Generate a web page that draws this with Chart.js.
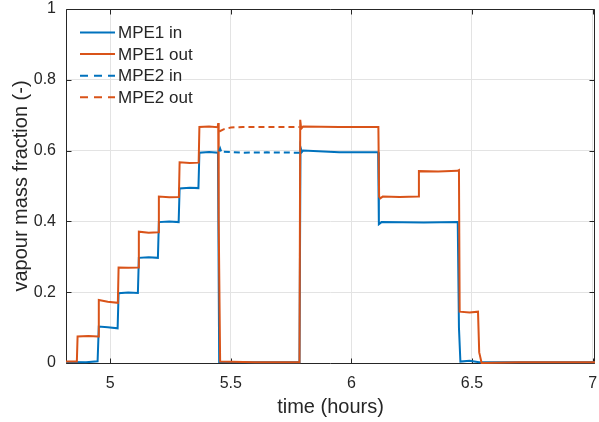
<!DOCTYPE html>
<html>
<head>
<meta charset="utf-8">
<script src="https://cdn.jsdelivr.net/npm/chart.js@4.4.1/dist/chart.umd.min.js"></script>
<style>
  html, body { margin: 0; padding: 0; background: #ffffff; }
  #wrap { width: 599px; height: 422px; }
</style>
</head>
<body>
<div id="wrap"><canvas id="c" width="599" height="422"></canvas></div>
<script>
// ---- data ----
const seriesLabels = ['MPE1 in', 'MPE1 out', 'MPE2 in', 'MPE2 out'];

const timeMPE1in = [4.817, 4.900, 4.948, 4.953, 4.990, 5.031, 5.035, 5.075, 5.115, 5.119, 5.160, 5.198, 5.202, 5.245, 5.284, 5.288, 5.330, 5.366, 5.370, 5.410, 5.447, 5.452, 5.600, 5.785, 5.789, 5.795, 5.800, 5.950, 6.111, 6.114, 6.125, 6.300, 6.441, 6.446, 6.452, 6.490, 6.530, 7.010];
const valMPE1in  = [0.003, 0.002, 0.005, 0.103, 0.101, 0.098, 0.197, 0.199, 0.198, 0.297, 0.299, 0.297, 0.398, 0.400, 0.398, 0.493, 0.495, 0.494, 0.594, 0.596, 0.594, 0.003, 0.002, 0.002, 0.610, 0.596, 0.600, 0.595, 0.595, 0.392, 0.398, 0.397, 0.398, 0.100, 0.004, 0.006, 0.002, 0.002];

const timeMPE1out = [4.817, 4.862, 4.865, 4.910, 4.950, 4.953, 4.990, 5.032, 5.035, 5.075, 5.116, 5.119, 5.160, 5.199, 5.202, 5.245, 5.285, 5.288, 5.330, 5.367, 5.370, 5.410, 5.446, 5.448, 5.450, 5.456, 5.600, 5.785, 5.788, 5.792, 5.800, 5.950, 6.112, 6.115, 6.120, 6.130, 6.200, 6.277, 6.280, 6.360, 6.440, 6.446, 6.449, 6.490, 6.525, 6.530, 6.540, 6.700, 7.010];
const valMPE1out  = [0.004, 0.004, 0.075, 0.076, 0.075, 0.178, 0.173, 0.170, 0.270, 0.269, 0.270, 0.371, 0.368, 0.369, 0.470, 0.468, 0.469, 0.567, 0.565, 0.566, 0.667, 0.668, 0.666, 0.678, 0.400, 0.004, 0.002, 0.002, 0.687, 0.662, 0.668, 0.667, 0.667, 0.470, 0.465, 0.470, 0.469, 0.470, 0.542, 0.541, 0.543, 0.545, 0.145, 0.143, 0.145, 0.030, 0.000, 0.002, 0.002];

const timeMPE2in = [5.452, 5.456, 5.462, 5.470, 5.550, 5.650, 5.785];
const valMPE2in  = [0.598, 0.606, 0.594, 0.597, 0.594, 0.595, 0.594];

const timeMPE2out = [5.452, 5.470, 5.500, 5.550, 5.650, 5.785];
const valMPE2out  = [0.654, 0.660, 0.665, 0.667, 0.667, 0.667];

const xTickValues = [5, 5.5, 6, 6.5, 7];
const yTickValues = [0, 0.2, 0.4, 0.6, 0.8, 1];
const xRange = [4.817, 7.01];
const yRange = [0, 1];

// ---- styling ----
const BLUE = '#0072BD';
const ORANGE = '#D95319';
const TEXT = '#262626';
const FONT = "'Liberation Sans', Arial, Helvetica, sans-serif";

function pts(xs, ys) { return xs.map((x, i) => ({ x: x, y: ys[i] })); }

const datasets = [
  { label: seriesLabels[0], data: pts(timeMPE1in, valMPE1in), borderColor: BLUE, borderWidth: 2, order: 3 },
  { label: seriesLabels[1], data: pts(timeMPE1out, valMPE1out), borderColor: ORANGE, borderWidth: 2, order: 2 },
  { label: seriesLabels[2], data: pts(timeMPE2in, valMPE2in), borderColor: BLUE, borderWidth: 2, borderDash: [6, 4], order: 1 },
  { label: seriesLabels[3], data: pts(timeMPE2out, valMPE2out), borderColor: ORANGE, borderWidth: 2, borderDash: [6, 4], order: 0 }
].map(d => Object.assign(d, { pointRadius: 0, tension: 0, fill: false, clip: 4, backgroundColor: d.borderColor }));

// box + inward tick marks (MATLAB style)
const boxPlugin = {
  id: 'box',
  beforeDatasetsDraw(chart) {
    const { ctx, chartArea: a, scales } = chart;
    ctx.save();
    ctx.strokeStyle = TEXT;
    ctx.lineWidth = 1;
    const L = Math.round(a.left) + 0.5, R = Math.round(a.right) - 0.5;
    const T = Math.round(a.top) + 0.5, B = Math.round(a.bottom) + 0.5;
    ctx.beginPath();
    ctx.rect(L, T, R - L, B - T);
    ctx.stroke();
    const tl = 5;
    ctx.beginPath();
    xTickValues.forEach(v => {
      const px = Math.round(scales.x.getPixelForValue(v)) + 0.5;
      ctx.moveTo(px, B); ctx.lineTo(px, B - tl);
      ctx.moveTo(px, T); ctx.lineTo(px, T + tl);
    });
    yTickValues.forEach(v => {
      const py = Math.round(scales.y.getPixelForValue(v)) + 0.5;
      ctx.moveTo(L, py); ctx.lineTo(L + tl, py);
      ctx.moveTo(R, py); ctx.lineTo(R - tl, py);
    });
    ctx.stroke();
    ctx.restore();
  }
};

// legend inside the axes, top-left, no box
const legendPlugin = {
  id: 'insideLegend',
  afterDraw(chart) {
    const { ctx } = chart;
    ctx.save();
    ctx.font = '17px ' + FONT;
    ctx.textBaseline = 'middle';
    ctx.textAlign = 'left';
    chart.data.datasets.forEach((d, i) => {
      const y = 32.5 + i * 21.6;
      ctx.strokeStyle = d.borderColor;
      ctx.lineWidth = 2;
      ctx.setLineDash(d.borderDash ? [8, 6] : []);
      ctx.beginPath();
      ctx.moveTo(80, y); ctx.lineTo(115, y);
      ctx.stroke();
      ctx.setLineDash([]);
      ctx.fillStyle = TEXT;
      ctx.fillText(d.label, 118, y + 1);
    });
    ctx.restore();
  }
};

new Chart(document.getElementById('c'), {
  type: 'line',
  data: { datasets: datasets },
  plugins: [boxPlugin, legendPlugin],
  options: {
    responsive: false,
    animation: false,
    devicePixelRatio: 1,
    layout: { padding: { top: 9, right: 4, left: 0, bottom: 0 } },
    plugins: { legend: { display: false }, tooltip: { enabled: false } },
    scales: {
      x: {
        type: 'linear',
        min: xRange[0], max: xRange[1],
        afterBuildTicks: s => { s.ticks = xTickValues.map(v => ({ value: v })); },
        afterFit: s => { s.height = 59; s.paddingLeft = 0; s.paddingRight = 0; },
        grid: { color: '#e3e3e3', lineWidth: 1, drawTicks: false },
        border: { display: false },
        ticks: { color: TEXT, font: { family: FONT, size: 16 }, padding: 11, maxRotation: 0, autoSkip: false, callback: v => String(v) },
        title: { display: true, text: 'time (hours)', color: TEXT, font: { family: FONT, size: 20 }, padding: { top: 0, bottom: 3 } }
      },
      y: {
        type: 'linear',
        min: yRange[0], max: yRange[1],
        afterBuildTicks: s => { s.ticks = yTickValues.map(v => ({ value: v })); },
        afterFit: s => { s.width = 66; s.paddingTop = 0; s.paddingBottom = 0; },
        grid: { color: '#e3e3e3', lineWidth: 1, drawTicks: false },
        border: { display: false },
        ticks: { color: TEXT, font: { family: FONT, size: 16 }, padding: 10, autoSkip: false, callback: v => String(v) },
        title: { display: true, text: 'vapour mass fraction (-)', color: TEXT, font: { family: FONT, size: 20 }, padding: { top: 9, bottom: 0 } }
      }
    }
  }
});
</script>
</body>
</html>
